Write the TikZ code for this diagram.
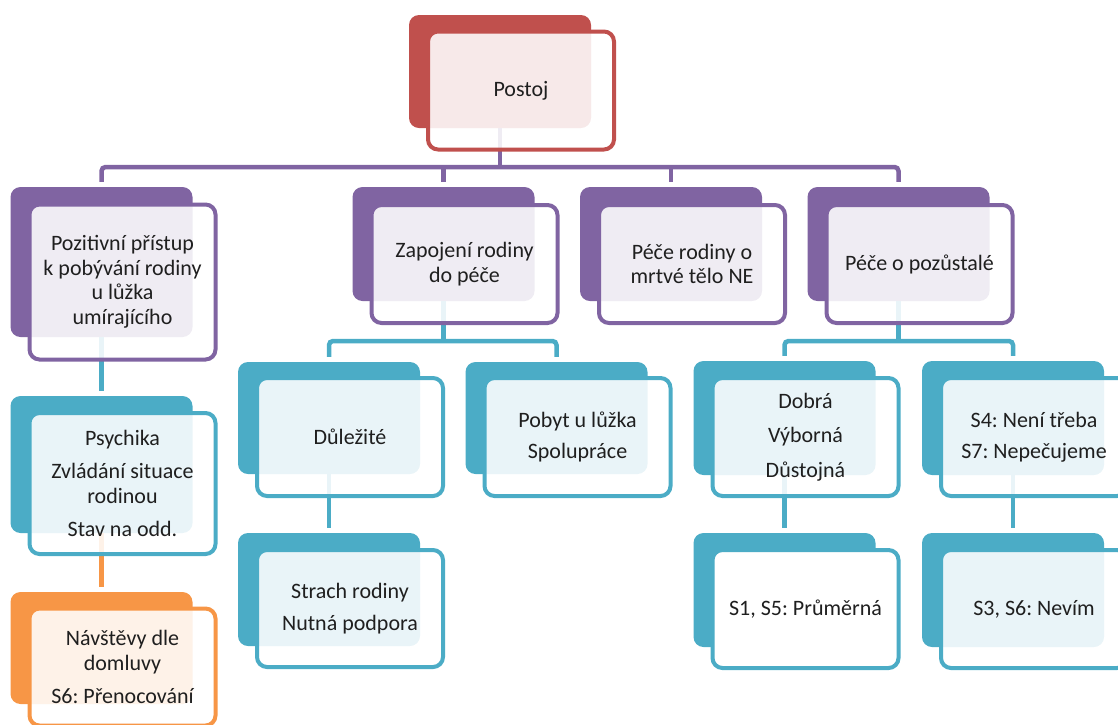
\documentclass[tikz,border=0pt]{standalone}
\usepackage{fontspec}
\setmainfont{Carlito}
\frenchspacing
\definecolor{smRed}{HTML}{C0504D}
\definecolor{smPurple}{HTML}{8064A2}
\definecolor{smTeal}{HTML}{4BACC6}
\definecolor{smOrange}{HTML}{F79646}
\definecolor{smText}{HTML}{1F1F1F}

\begin{document}
\begin{tikzpicture}
      [ x=1pt, y=-1pt
      , backBox/.style={fill=#1, rounded corners=10pt, minimum width=182pt, inner sep=0pt}
      , frontBox/.style={draw=#1, line width=4pt, fill=white, fill opacity=0.88, text opacity=1, text=smText, rounded corners=10pt, minimum width=186pt, inner sep=0pt, align=center, font=\fontsize{22}{24.5}\selectfont}
      , link/.style={draw=#1, line width=4.5pt}
      ]
    \useasboundingbox (0,0) rectangle (1118,724);
    \clip (0,0) rectangle (1118,724);

    \node[backBox=smRed, minimum height=113pt] (Pb) at (500,71.5) {};
    \node[backBox=smPurple, minimum height=150pt] (PZb) at (101.5,262) {};
    \node[backBox=smPurple, minimum height=114pt] (ZRb) at (443.5,244) {};
    \node[backBox=smPurple, minimum height=114pt] (PRb) at (671,244) {};
    \node[backBox=smPurple, minimum height=114pt] (PPb) at (898.5,244) {};
    \node[backBox=smTeal, minimum height=137pt] (PSb) at (101.5,464.5) {};
    \node[backBox=smOrange, minimum height=112pt] (NVb) at (101.5,648) {};
    \node[backBox=smTeal, minimum height=112pt] (DUb) at (329,418) {};
    \node[backBox=smTeal, minimum height=112pt] (PBb) at (556.5,418) {};
    \node[backBox=smTeal, minimum height=113pt] (SRb) at (329,589.5) {};
    \node[backBox=smTeal, minimum height=114pt] (DBb) at (784.5,418) {};
    \node[backBox=smTeal, minimum height=114pt] (NTb) at (1013,418) {};
    \node[backBox=smTeal, minimum height=114pt] (PMb) at (784.5,590) {};
    \node[backBox=smTeal, minimum height=114pt] (NEb) at (1013,590) {};

    \coordinate (busP) at (0,167);
    \coordinate (busZR) at (0,341);
    \coordinate (busPP) at (0,341);

    % purple level
    \draw[link=smPurple] (Pb.south) -- (Pb.south |- busP);
    \draw[link=smPurple, rounded corners=4pt, shorten <=5pt, shorten >=5pt]
    (PZb.north) -- (PZb.north |- busP) -- (PPb.north |- busP) -- (PPb.north);
    \draw[link=smPurple, shorten >=5pt] (ZRb.north |- busP) -- (ZRb.north);
    \draw[link=smPurple, shorten >=5pt] (PRb.north |- busP) -- (PRb.north);

    % teal and orange levels
    \draw[link=smTeal, shorten >=5pt] (PZb.south) -- (PSb.north);
    \draw[link=smOrange, shorten >=5pt] (PSb.south) -- (NVb.north);

    \draw[link=smTeal] (ZRb.south) -- (ZRb.south |- busZR);
    \draw[link=smTeal, rounded corners=4pt, shorten <=5pt, shorten >=5pt]
    (DUb.north) -- (DUb.north |- busZR) -- (PBb.north |- busZR) -- (PBb.north);
    \draw[link=smTeal, shorten >=5pt] (DUb.south) -- (SRb.north);

    \draw[link=smTeal] (PPb.south) -- (PPb.south |- busPP);
    \draw[link=smTeal, rounded corners=4pt, shorten <=5pt, shorten >=5pt]
    (DBb.north) -- (DBb.north |- busPP) -- (NTb.north |- busPP) -- (NTb.north);
    \draw[link=smTeal, shorten >=5pt] (DBb.south) -- (PMb.north);
    \draw[link=smTeal, shorten >=5pt] (NTb.south) -- (NEb.north);

    \node[frontBox=smRed, minimum height=118pt] (P) at ([shift={(21,19)}]Pb) {Postoj};
    \node[frontBox=smPurple, minimum height=155pt] (PZ) at ([shift={(21,20)}]PZb)
      {Pozitivní přístup\\k pobývání rodiny\\u lůžka\\umírajícího};
    \node[frontBox=smPurple, minimum height=118pt] (ZR) at ([shift={(21,20)}]ZRb) {Zapojení rodiny\\do péče};
    \node[frontBox=smPurple, minimum height=118pt] (PR) at ([shift={(21,20)}]PRb) {Péče rodiny o\\mrtvé tělo NE};
    \node[frontBox=smPurple, minimum height=118pt] (PP) at ([shift={(21,20)}]PPb) {Péče o pozůstalé};
    \node[frontBox=smTeal, minimum height=141pt] (PS) at ([shift={(21,19)}]PSb)
      {Psychika\\[9pt]Zvládání situace\\rodinou\\[9pt]Stav na odd.};
    \node[frontBox=smOrange, minimum height=117pt] (NV) at ([shift={(21,19)}]NVb)
      {Návštěvy dle\\domluvy\\[9pt]S6: Přenocování};
    \node[frontBox=smTeal, minimum height=118pt] (DU) at ([shift={(21,19)}]DUb) {Důležité};
    \node[frontBox=smTeal, minimum height=118pt] (PB) at ([shift={(21,19)}]PBb) {Pobyt u lůžka\\[7pt]Spolupráce};
    \node[frontBox=smTeal, minimum height=117pt] (SR) at ([shift={(21,19)}]SRb) {Strach rodiny\\[7pt]Nutná podpora};
    \node[frontBox=smTeal, minimum height=118pt] (DB) at ([shift={(21,19)}]DBb) {Dobrá\\[10pt]Výborná\\[10pt]Důstojná};
    \node[frontBox=smTeal, minimum height=118pt] (NT) at ([shift={(21,19)}]NTb) {S4: Není třeba\\[7pt]S7: Nepečujeme};
    \node[frontBox=smTeal, fill opacity=1, minimum height=118pt] (PM) at ([shift={(21,19)}]PMb) {S1, S5: Průměrná};
    \node[frontBox=smTeal, minimum height=118pt] (NE) at ([shift={(21,19)}]NEb) {S3, S6: Nevím};

  \end{tikzpicture}
\end{document}
